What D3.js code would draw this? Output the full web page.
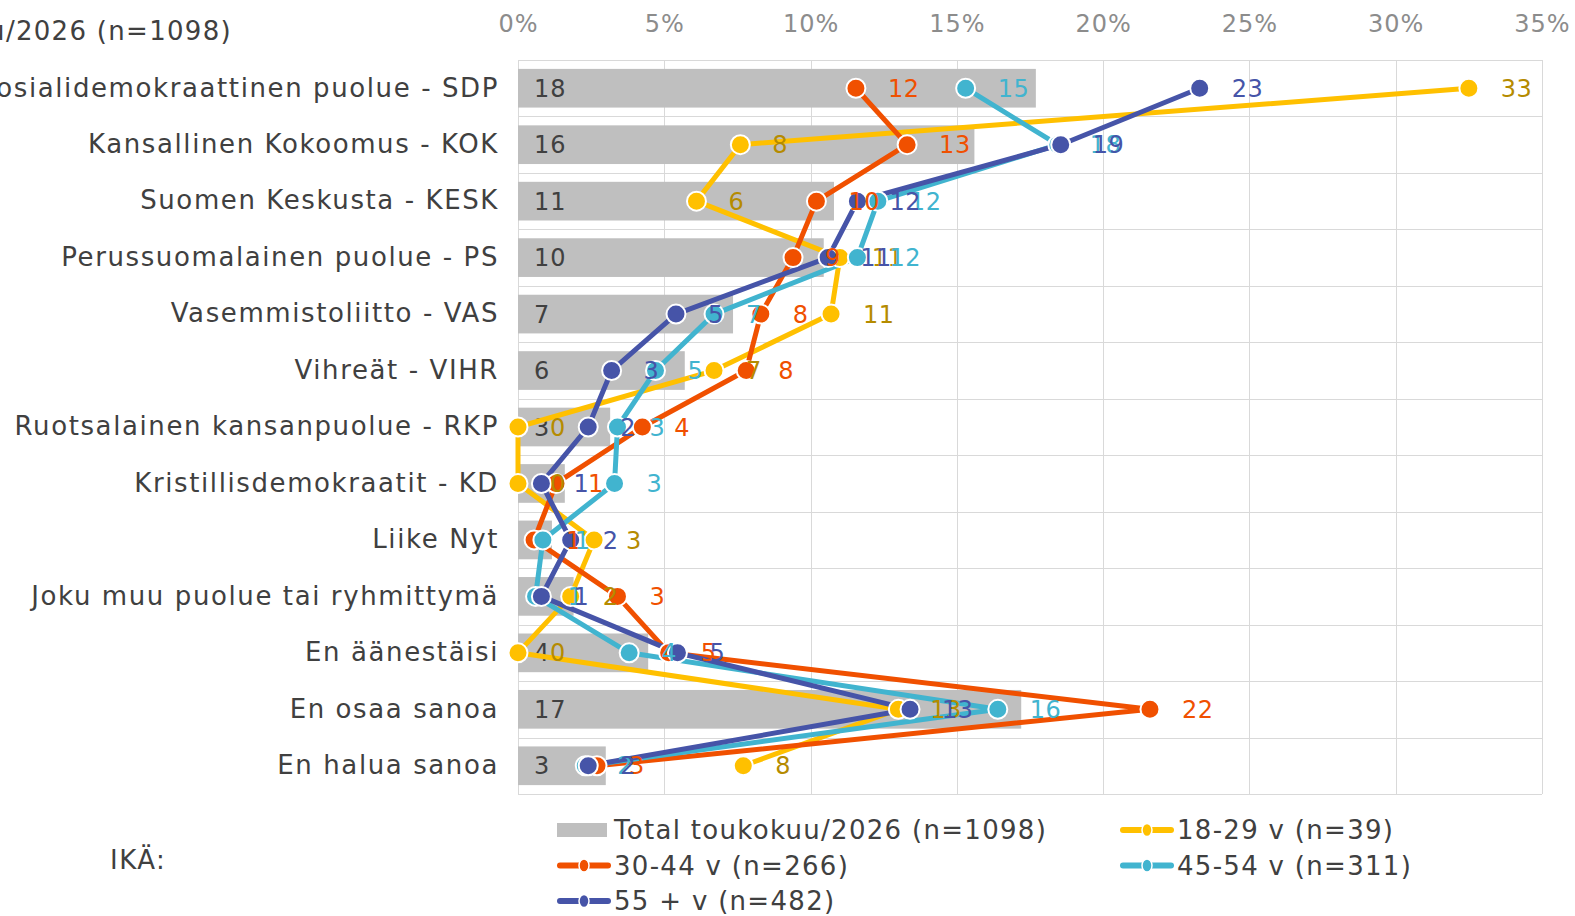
<!DOCTYPE html>
<html>
<head>
<meta charset="utf-8">
<script src="https://cdn.jsdelivr.net/npm/d3@7"></script>
<style>
  html, body { margin: 0; padding: 0; background: #fff; }
  svg { display: block; font-family: "DejaVu Sans", Verdana, sans-serif; }
</style>
</head>
<body>
<svg id="chart" width="1575" height="916"></svg>
<script>
// categories (parties), top to bottom
const categories = [
  "Sosialidemokraattinen puolue - SDP",
  "Kansallinen Kokoomus - KOK",
  "Suomen Keskusta - KESK",
  "Perussuomalainen puolue - PS",
  "Vasemmistoliitto - VAS",
  "Vihreät - VIHR",
  "Ruotsalainen kansanpuolue - RKP",
  "Kristillisdemokraatit - KD",
  "Liike Nyt",
  "Joku muu puolue tai ryhmittymä",
  "En äänestäisi",
  "En osaa sanoa",
  "En halua sanoa"
];

// values in percent
const total = [17.7, 15.6, 10.8, 10.45, 7.35, 5.7, 3.15, 1.6, 1.16, 1.9, 4.45, 17.2, 3.0];
const age1829 = [32.5, 7.6, 6.1, 11.0, 10.7, 6.7, 0, 0, 2.6, 1.8, 0, 13.0, 7.7];
const age3044 = [11.55, 13.3, 10.2, 9.4, 8.3, 7.8, 4.25, 1.3, 0.55, 3.4, 5.15, 21.6, 2.7];
const age4554 = [15.3, 18.45, 12.3, 11.6, 6.7, 4.7, 3.4, 3.3, 0.85, 0.6, 3.8, 16.4, 2.3];
const age55 = [23.3, 18.55, 11.6, 10.6, 5.4, 3.2, 2.4, 0.8, 1.8, 0.8, 5.45, 13.4, 2.4];

const tickValues = [0, 5, 10, 15, 20, 25, 30, 35];

const totalName = "Total toukokuu/2026 (n=1098)";
const seriesNames = ["18-29 v (n=39)", "30-44 v (n=266)", "45-54 v (n=311)", "55 + v (n=482)"];
const seriesValues = [age1829, age3044, age4554, age55];
const seriesColours = ["#FFC000", "#F05000", "#41B4CF", "#4654A8"];
const labelColours = ["#B58B00", "#F05000", "#41B4CF", "#4654A8"];

const svg = d3.select("#chart"),
  plotLeft = 518,
  plotRight = 1542,
  plotTop = 60,
  plotBottom = 794,
  textColour = "#404040",
  gridColour = "#D9D9D9";

const x = d3.scaleLinear().domain([0, 35]).range([plotLeft, plotRight]);
const y = d3.scaleBand()
  .domain(categories)
  .range([plotTop, plotBottom])
  .paddingInner(0.315)
  .paddingOuter(0.1575);
const step = y.step();
const rowMid = (c) => y(c) + y.bandwidth() / 2;

// grid
const grid = svg.append("g").attr("stroke", gridColour).attr("stroke-width", 1);
grid.selectAll("line.v")
  .data(tickValues)
  .enter()
  .append("line")
  .attr("x1", (d) => Math.round(x(d)) + 0.5)
  .attr("x2", (d) => Math.round(x(d)) + 0.5)
  .attr("y1", plotTop)
  .attr("y2", plotBottom);
grid.selectAll("line.h")
  .data(d3.range(categories.length + 1))
  .enter()
  .append("line")
  .attr("x1", plotLeft)
  .attr("x2", plotRight)
  .attr("y1", (i) => Math.round(plotTop + i * step) + 0.5)
  .attr("y2", (i) => Math.round(plotTop + i * step) + 0.5);

// top axis
const xAxis = svg.append("g")
  .attr("transform", `translate(0,${plotTop})`)
  .call(d3.axisTop(x).tickValues(tickValues).tickFormat((d) => d + "%").tickSize(0).tickPadding(28));
xAxis.select(".domain").remove();
xAxis.selectAll("text")
  .attr("fill", "#8C8C8C")
  .style("font-size", "24px")
  .style("letter-spacing", "1px")
  .style("font-family", "DejaVu Sans, Verdana, sans-serif");

// category axis
const yAxis = svg.append("g")
  .attr("transform", `translate(${plotLeft},0)`)
  .call(d3.axisLeft(y).tickSize(0).tickPadding(19));
yAxis.select(".domain").remove();
yAxis.selectAll("text")
  .attr("fill", textColour)
  .style("font-size", "26px")
  .style("letter-spacing", "1.6px")
  .style("font-family", "DejaVu Sans, Verdana, sans-serif");

// total bars
svg.append("g")
  .selectAll("rect")
  .data(categories)
  .enter()
  .append("rect")
  .attr("x", x(0))
  .attr("y", (c) => y(c))
  .attr("width", (c, i) => x(total[i]) - x(0))
  .attr("height", y.bandwidth())
  .attr("fill", "#BFBFBF");

svg.append("g")
  .selectAll("text")
  .data(categories)
  .enter()
  .append("text")
  .attr("x", x(0) + 16)
  .attr("y", (c) => rowMid(c))
  .attr("dy", "0.36em")
  .attr("fill", textColour)
  .style("font-size", "24px")
  .style("letter-spacing", "1px")
  .text((c, i) => Math.round(total[i]));

// age series
const line = d3.line()
  .x((d) => x(d.v))
  .y((d) => rowMid(d.c));

const seriesData = seriesValues.map((vals, s) =>
  vals.map((v, i) => ({ v, c: categories[i], s }))
);

svg.append("g")
  .selectAll("path")
  .data(seriesData)
  .enter()
  .append("path")
  .attr("d", line)
  .attr("fill", "none")
  .attr("stroke", (d) => seriesColours[d[0].s])
  .attr("stroke-width", 5)
  .attr("stroke-linejoin", "round");

seriesData.forEach((pts, s) => {
  svg.append("g")
    .selectAll("circle")
    .data(pts)
    .enter()
    .append("circle")
    .attr("cx", (d) => x(d.v))
    .attr("cy", (d) => rowMid(d.c))
    .attr("r", 9.5)
    .attr("fill", seriesColours[s])
    .attr("stroke", "#fff")
    .attr("stroke-width", 2);
});

seriesData.forEach((pts, s) => {
  svg.append("g")
    .selectAll("text")
    .data(pts)
    .enter()
    .append("text")
    .attr("x", (d) => x(d.v) + 32)
    .attr("y", (d) => rowMid(d.c))
    .attr("dy", "0.36em")
    .attr("fill", labelColours[s])
    .style("font-size", "24px")
    .style("letter-spacing", "0.5px")
    .text((d) => Math.round(d.v));
});

// title (cut off on the left like the original)
svg.append("text")
  .attr("x", 232)
  .attr("y", 31)
  .attr("dy", "0.36em")
  .attr("text-anchor", "end")
  .attr("fill", textColour)
  .style("font-size", "26px")
  .style("letter-spacing", "1.3px")
  .text(totalName);

// legend
svg.append("text")
  .attr("x", 110)
  .attr("y", 860)
  .attr("dy", "0.36em")
  .attr("fill", textColour)
  .style("font-size", "26px")
  .style("letter-spacing", "1.5px")
  .text("IKÄ:");

const legendItems = [
  { name: totalName, type: "bar", colour: "#BFBFBF", col: 0, row: 0 },
  { name: seriesNames[0], type: "line", colour: seriesColours[0], col: 1, row: 0 },
  { name: seriesNames[1], type: "line", colour: seriesColours[1], col: 0, row: 1 },
  { name: seriesNames[2], type: "line", colour: seriesColours[2], col: 1, row: 1 },
  { name: seriesNames[3], type: "line", colour: seriesColours[3], col: 0, row: 2 }
];
const legendX = [557, 1120],
  legendY = [830, 865.5, 901];

const legend = svg.append("g")
  .selectAll("g")
  .data(legendItems)
  .enter()
  .append("g")
  .attr("transform", (d) => `translate(${legendX[d.col]},${legendY[d.row]})`);

legend.filter((d) => d.type === "bar")
  .append("rect")
  .attr("x", 0)
  .attr("y", -7)
  .attr("width", 50)
  .attr("height", 14)
  .attr("fill", (d) => d.colour);

const lineItems = legend.filter((d) => d.type === "line");
lineItems.append("line")
  .attr("x1", 3)
  .attr("x2", 51)
  .attr("y1", 0)
  .attr("y2", 0)
  .attr("stroke", (d) => d.colour)
  .attr("stroke-width", 6)
  .attr("stroke-linecap", "round");
lineItems.append("ellipse")
  .attr("cx", 27)
  .attr("cy", 0)
  .attr("rx", 5)
  .attr("ry", 6.5)
  .attr("fill", (d) => d.colour)
  .attr("stroke", "#fff")
  .attr("stroke-width", 1.5);

legend.append("text")
  .attr("x", 57)
  .attr("y", 0)
  .attr("dy", "0.36em")
  .attr("fill", textColour)
  .style("font-size", "26px")
  .style("letter-spacing", "1.3px")
  .text((d) => d.name);
</script>
</body>
</html>
